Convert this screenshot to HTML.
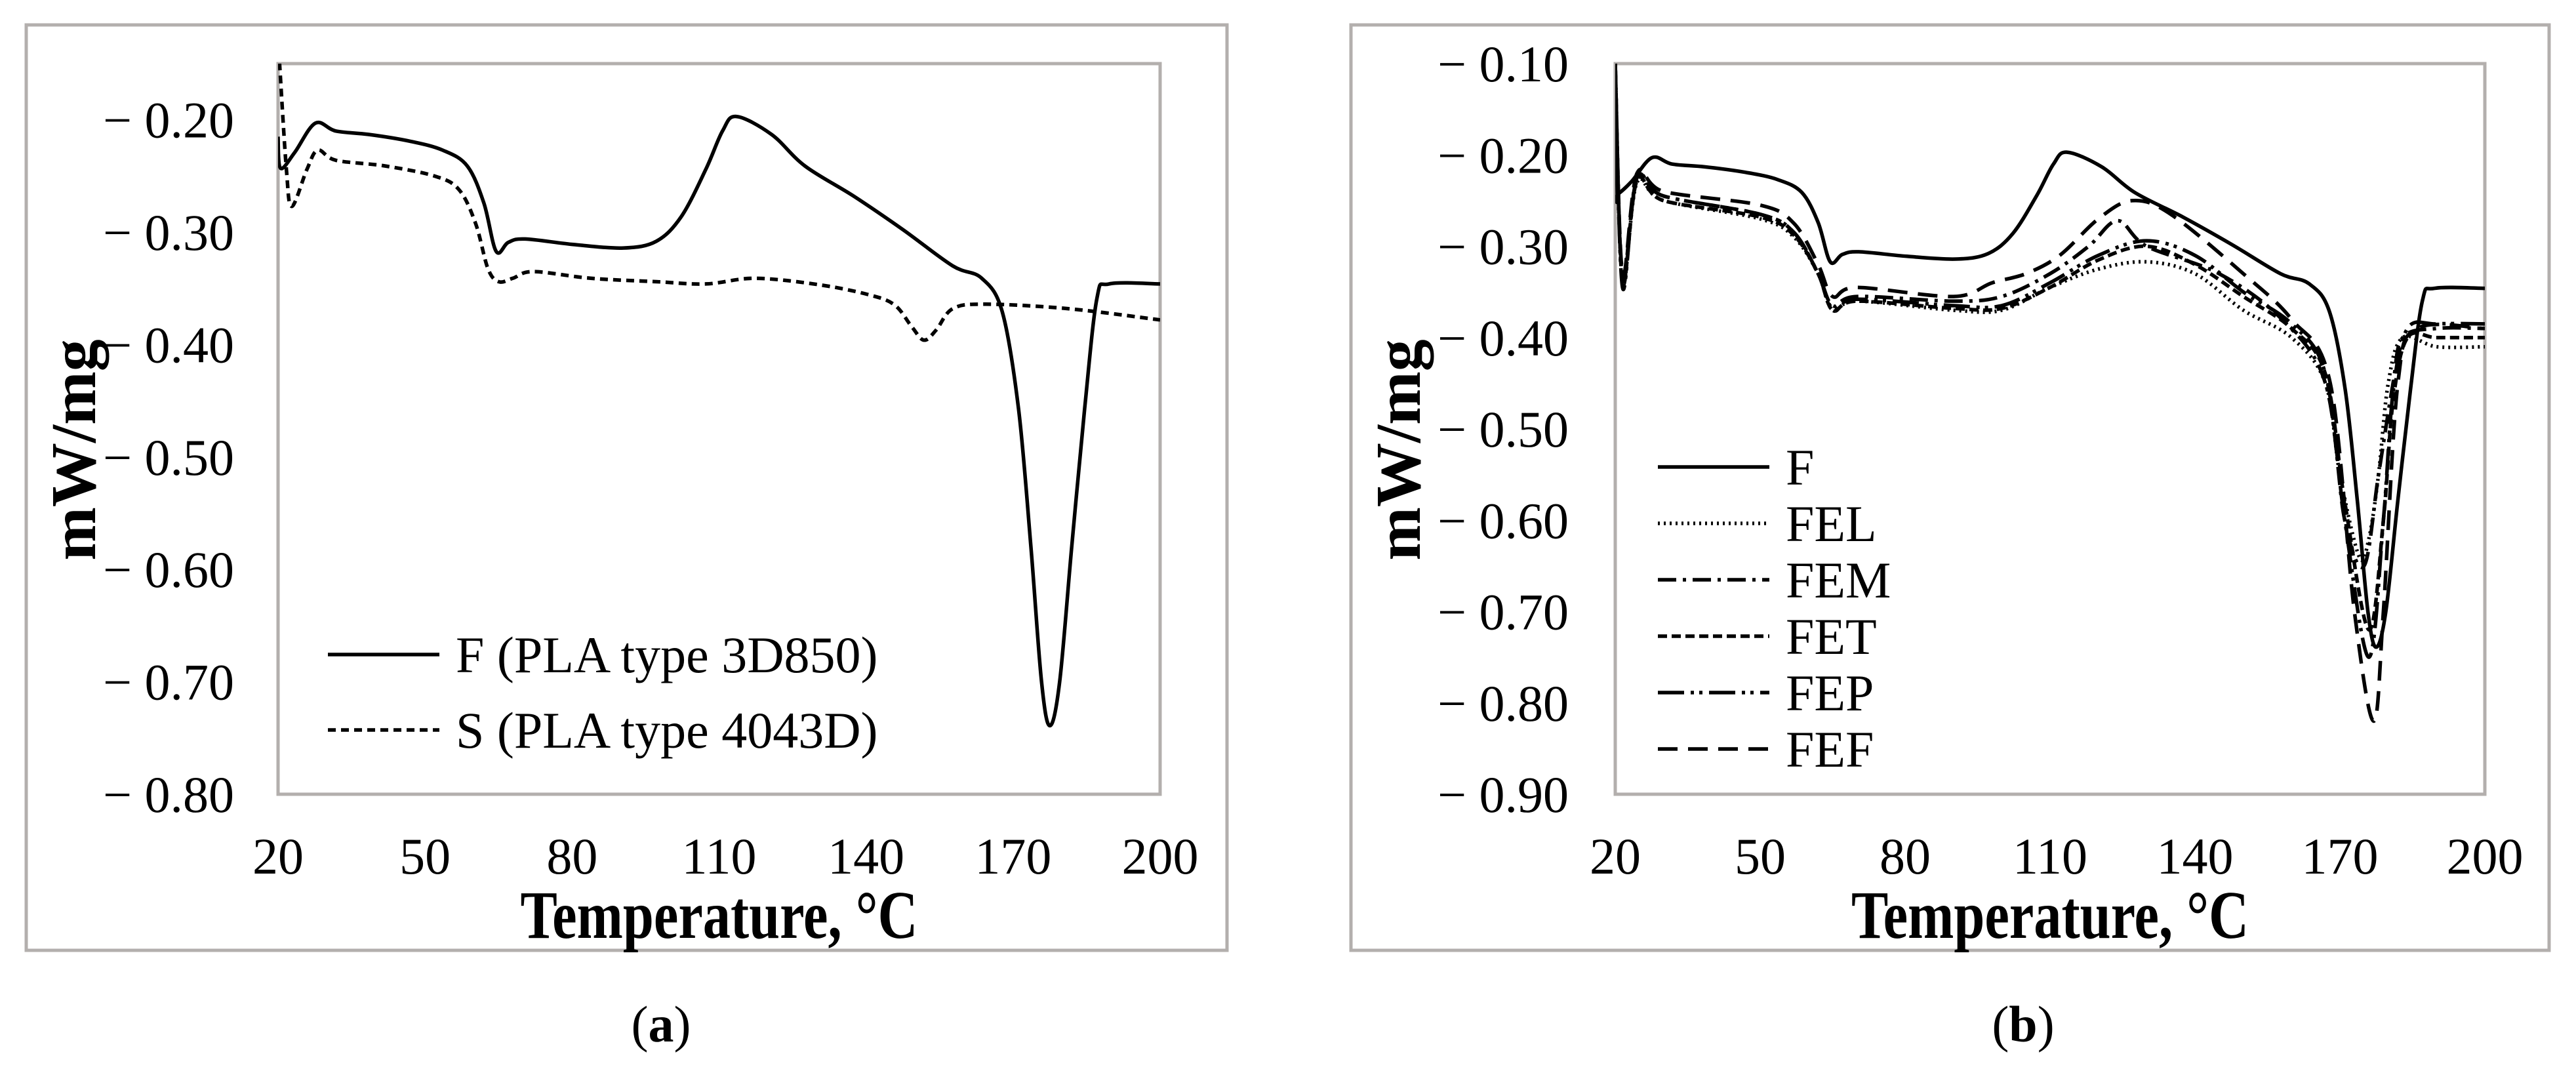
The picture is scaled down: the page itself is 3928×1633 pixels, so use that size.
<!DOCTYPE html>
<html><head><meta charset="utf-8"><style>
html,body{margin:0;padding:0;background:#fff;}
svg{display:block;font-family:"Liberation Serif",serif;}
</style></head><body>
<svg id="fig" width="3928" height="1633" viewBox="0 0 3928 1633" xmlns="http://www.w3.org/2000/svg">
<rect x="0" y="0" width="3928" height="1633" fill="#fff"/>
<rect x="40" y="38" width="1831" height="1411" fill="none" stroke="#b3afad" stroke-width="5"/>
<rect x="2060" y="38" width="1827" height="1411" fill="none" stroke="#b3afad" stroke-width="5"/>
<g id="pa"></g>
<g id="pb"></g>
<text x="1008" y="1588" font-size="78" text-anchor="middle">(<tspan font-weight="bold">a</tspan>)</text>
<text x="3085" y="1588" font-size="78" text-anchor="middle">(<tspan font-weight="bold">b</tspan>)</text>
</svg>
<script>
const xTicks=[20,50,80,110,140,170,200];
const aYTicks=[-0.2,-0.3,-0.4,-0.5,-0.6,-0.7,-0.8];
const bYTicks=[-0.1,-0.2,-0.3,-0.4,-0.5,-0.6,-0.7,-0.8,-0.9];
const fT=[20,20.5,23.4,27.6,31.8,38.5,46.9,53.6,58.6,62,64.5,67,70.4,80.4,90.5,97.2,102.3,107.3,110.7,113.5,120.7,127.5,137.5,147.6,157.7,163.6,167.8,171.1,173.6,175.8,177.5,179.5,182,184.6,187.1,189.6,200];
const fV=[-0.215,-0.243,-0.229,-0.203,-0.21,-0.213,-0.219,-0.227,-0.241,-0.274,-0.317,-0.309,-0.306,-0.311,-0.314,-0.308,-0.286,-0.244,-0.21,-0.197,-0.213,-0.241,-0.268,-0.298,-0.33,-0.341,-0.371,-0.457,-0.578,-0.7,-0.739,-0.7,-0.578,-0.457,-0.359,-0.346,-0.346];
const sT=[20.3,21.7,22.8,25.9,28.1,31.8,41.8,51.9,56.9,60.3,62.8,65,67.9,72.1,83.8,97.2,107.3,117.4,130.8,140.9,145.9,149.3,151.8,154.3,157.7,164.4,181.2,200];
const sV=[-0.149,-0.244,-0.277,-0.244,-0.227,-0.236,-0.241,-0.25,-0.262,-0.292,-0.332,-0.344,-0.341,-0.335,-0.341,-0.344,-0.346,-0.341,-0.347,-0.356,-0.365,-0.384,-0.396,-0.387,-0.368,-0.364,-0.368,-0.378];
const bF_T=[20,20.4].concat(fT.slice(1));
const bF_V=[-0.1,-0.24].concat(fV.slice(1));
const felT=[20,21.5,24.5,30,50,57,62,65,70,90,100,110,120,130,140,150,160,167,170,174,176,178,180,183,190,200];
const felV=[-0.1,-0.339,-0.23,-0.25,-0.27,-0.29,-0.33,-0.37,-0.36,-0.37,-0.37,-0.345,-0.325,-0.317,-0.33,-0.37,-0.40,-0.45,-0.55,-0.64,-0.62,-0.55,-0.45,-0.40,-0.41,-0.41];
const femT=[20,21.5,24.5,30,50,57,62,65,70,90,100,110,118,124,130,145,158,167,171,175,178,181,183,190,200];
const femV=[-0.1,-0.335,-0.225,-0.245,-0.265,-0.285,-0.33,-0.365,-0.355,-0.36,-0.355,-0.33,-0.3,-0.272,-0.30,-0.33,-0.38,-0.45,-0.60,-0.65,-0.55,-0.45,-0.40,-0.39,-0.39];
const fetT=[20,21.5,24.5,30,50,57,62,65,70,90,100,110,120,130,140,150,160,167,171,176,179,181,184,190,200];
const fetV=[-0.1,-0.34,-0.228,-0.25,-0.268,-0.288,-0.33,-0.37,-0.36,-0.368,-0.368,-0.345,-0.315,-0.30,-0.32,-0.355,-0.39,-0.44,-0.58,-0.72,-0.60,-0.47,-0.40,-0.40,-0.40];
const fepT=[20,21.5,24.5,30,50,57,62,65,70,90,100,110,120,130,140,150,160,167,171,176,179,181,184,190,200];
const fepV=[-0.1,-0.345,-0.225,-0.245,-0.265,-0.285,-0.33,-0.368,-0.358,-0.365,-0.365,-0.34,-0.31,-0.294,-0.31,-0.35,-0.385,-0.44,-0.60,-0.75,-0.60,-0.46,-0.39,-0.385,-0.385];
const fefT=[20,21.5,24.5,30,50,57,62,65,70,90,98,105,112,120,127,135,150,160,168,173,177,179,182,186,200];
const fefV=[-0.1,-0.33,-0.22,-0.24,-0.255,-0.275,-0.32,-0.355,-0.345,-0.355,-0.34,-0.33,-0.31,-0.27,-0.25,-0.265,-0.33,-0.38,-0.45,-0.70,-0.82,-0.70,-0.45,-0.39,-0.39];

const NS="http://www.w3.org/2000/svg";
function mk(tag,attrs,parent){const e=document.createElementNS(NS,tag);for(const k in attrs)e.setAttribute(k,attrs[k]);parent.appendChild(e);return e;}
function smooth(pts){let d="M"+pts[0][0].toFixed(1)+","+pts[0][1].toFixed(1);
 for(let i=0;i<pts.length-1;i++){const p0=pts[i-1]||pts[i],p1=pts[i],p2=pts[i+1],p3=pts[i+2]||p2;
  const c1=[p1[0]+(p2[0]-p0[0])/6,p1[1]+(p2[1]-p0[1])/6],c2=[p2[0]-(p3[0]-p1[0])/6,p2[1]-(p3[1]-p1[1])/6];
  d+="C"+c1.map(v=>v.toFixed(1))+" "+c2.map(v=>v.toFixed(1))+" "+p2[0].toFixed(1)+","+p2[1].toFixed(1);}
 return d;}
function chart(g,cfg){
 const L=cfg.L,R=cfg.R,T=97,B=1211;
 const sx=t=>L+(t-20)/180*(R-L);
 const sy=v=>T+(cfg.ymax-v)/(cfg.ymax-cfg.ymin)*(B-T);
 const clipId=cfg.id+"clip";
 const defs=mk("defs",{},g);const cp=mk("clipPath",{id:clipId},defs);mk("rect",{x:L,y:T,width:R-L,height:B-T},cp);
 const frame=mk("rect",{x:L,y:T,width:R-L,height:B-T,fill:"none",stroke:"#b3afad","stroke-width":5},g);
 
 
 cfg.yt.forEach(v=>{const t=mk("text",{x:cfg.lblR,y:sy(v)+27,"font-size":78,"text-anchor":"end"},g);
  t.textContent="\u2212 "+Math.abs(v).toFixed(2);
  
  });
 xTicks.forEach(v=>{const t=mk("text",{x:sx(v),y:1332,"font-size":78,"text-anchor":"middle"},g);
  t.textContent=v;
  
  });
 const xt=mk("text",{x:(L+R)/2-303,y:1430,"font-size":104,"font-weight":"bold",textLength:606,lengthAdjust:"spacingAndGlyphs"},g);
 xt.textContent="Temperature, \u00B0C";
 
 
 const yt=mk("text",{x:0,y:0,"font-size":98,"font-weight":"bold","text-anchor":"middle",transform:"translate("+(cfg.ytx)+",686) rotate(-90)"},g);
 yt.textContent="mW/mg";
 
 
 const sg=mk("g",{"clip-path":"url(#"+clipId+")"},g);
 cfg.series.forEach((s,i)=>{
  const pts=s.t.map((t,j)=>[sx(t),sy(s.v[j])]);
  const p=mk("path",{d:smooth(pts),fill:"none",stroke:"#000","stroke-width":5.5,"stroke-linecap":s.cap||"butt","stroke-linejoin":"round"},sg);
  if(s.dash)p.setAttribute("stroke-dasharray",s.dash);
  
  
  const ly=cfg.legY+i*cfg.legDy;
  const ll=mk("line",{x1:cfg.legX,y1:ly,x2:cfg.legX+170,y2:ly,stroke:"#000","stroke-width":5.5,"stroke-linecap":s.cap||"butt"},g);
  if(s.dash)ll.setAttribute("stroke-dasharray",s.dash);
  
  
  const lt=mk("text",{x:cfg.legX+195,y:ly+27,"font-size":78},g);
  lt.textContent=s.name;
  
  
 });
}
chart(document.getElementById("pa"),{id:"a",L:424,R:1769,ymax:-0.15,ymin:-0.8,yt:aYTicks,lblR:357,ytx:145,legX:500,legY:998,legDy:115,
 series:[{key:"f",name:"F (PLA type 3D850)",t:fT,v:fV},{key:"s",name:"S (PLA type 4043D)",t:sT,v:sV,dash:"12 8",cap:"butt"}]});
chart(document.getElementById("pb"),{id:"b",L:2463,R:3789,ymax:-0.1,ymin:-0.9,yt:bYTicks,lblR:2392,ytx:2165,legX:2528,legY:712,legDy:86,
 series:[{key:"f",name:"F",t:bF_T,v:bF_V},
  {key:"fel",name:"FEL",t:felT,v:felV,dash:"3 6"},
  {key:"fem",name:"FEM",t:femT,v:femV,dash:"28 10 5 10"},
  {key:"fet",name:"FET",t:fetT,v:fetV,dash:"14 7"},
  {key:"fep",name:"FEP",t:fepT,v:fepV,dash:"40 10 5 8 5 10"},
  {key:"fef",name:"FEF",t:fefT,v:fefV,dash:"30 16"}]});
</script>
</body></html>
